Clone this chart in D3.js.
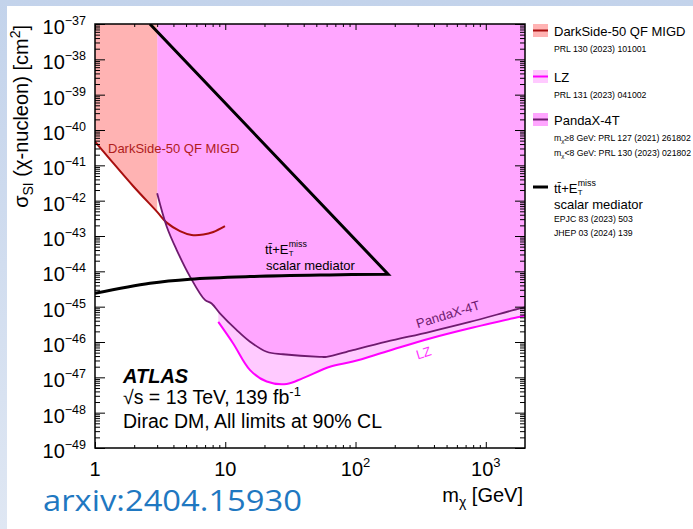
<!DOCTYPE html>
<html lang="en">
<head>
<meta charset="UTF-8">
<title>DM SI limits</title>
<style>
  body { margin: 0; background: #c6d5ec; }
  svg { display: block; }
  text { font-family: "Liberation Sans", Arial, Helvetica, sans-serif; fill: #000; }
</style>
</head>
<body>
<div id="chart"></div>
<script src="https://d3js.org/d3.v7.min.js"></script>
<script>
// values: mass [GeV] and cross section [cm^2]
var darksideX = [1, 1.3, 1.96, 3.0, 3.57, 4.49, 5.52, 6.79, 8.1, 9.95];
var darksideY = [4.7e-41, 1.5e-41, 2.6e-42, 4.8e-43, 2.35e-43, 1.38e-43, 1.07e-43, 1.1e-43, 1.3e-43, 1.9e-43];
var darksideFillMax = 3.0;

var pandaxX = [3.0, 3.55, 4.24, 5.36, 6.98, 7.86, 9.1, 12.2, 15.5, 20.8, 27.7, 53, 60, 95.5, 173, 373, 755, 1830, 2000];
var pandaxY = [1.62e-42, 1.86e-43, 4.0e-44, 7.1e-45, 1.55e-45, 1.23e-45, 6.5e-46, 2.2e-46, 1.02e-46, 5.3e-47,
  4.5e-47, 3.8e-47, 3.8e-47, 5.9e-47, 1.02e-46, 1.95e-46, 3.7e-46, 8.9e-46, 9.5e-46];

var lzX = [8.84, 11.5, 15.5, 20.8, 29.6, 39.5, 63.6, 95.5, 173, 373, 755, 1830, 2000];
var lzY = [3.7e-46, 9.1e-47, 1.6e-47, 7.6e-48, 6.5e-48, 9.5e-48, 2.0e-47, 2.8e-47, 5.4e-47, 1.26e-46, 2.45e-46, 5.2e-46, 5.6e-46];

// ttbar + MET: smooth lower edge, then straight diagonal back to the top
var ttbarLowX = [1, 2.64, 5.36, 15.5, 63, 178];
var ttbarLowY = [2.4e-45, 4.6e-45, 6.0e-45, 7.1e-45, 7.9e-45, 8.3e-45];
var ttbarTopX = 2.64;

var xMajor = [1, 10, 100, 1000];
var xLabels = [["1", ""], ["10", ""], ["10", "2"], ["10", "3"]];
var yExponents = [-37, -38, -39, -40, -41, -42, -43, -44, -45, -46, -47, -48, -49];

var legendTitles = ["DarkSide-50 QF MIGD", "LZ", "PandaX-4T"];
var legendRefs = [["PRL 130 (2023) 101001"], ["PRL 131 (2023) 041002"],
  ["\u2265" + "8 GeV: PRL 127 (2021) 261802", "<8 GeV: PRL 130 (2023) 021802"]];
var ttbarRefs = ["EPJC 83 (2023) 503", "JHEP 03 (2024) 139"];

var W = 693, H = 529;
var L = 95, R = 525, T = 24, B = 448;

var svg = d3.select("#chart").append("svg")
  .attr("width", W).attr("height", H);

var defs = svg.append("defs");
var grad = defs.append("linearGradient").attr("id", "slide").attr("x1", 0).attr("y1", 0).attr("x2", 0).attr("y2", 1);
grad.append("stop").attr("offset", "0").attr("stop-color", "#c3d3eb");
grad.append("stop").attr("offset", "1").attr("stop-color", "#dfe7f3");
defs.append("clipPath").attr("id", "plot").append("rect")
  .attr("x", L).attr("y", T).attr("width", R - L).attr("height", B - T);

svg.append("rect").attr("width", W).attr("height", H).attr("fill", "url(#slide)");
svg.append("rect").attr("x", 7).attr("y", 6).attr("width", W - 7).attr("height", H - 6).attr("fill", "#fff");

var x = d3.scaleLog().domain([1, 2000]).range([L, R]);
var y = d3.scaleLog().domain([1e-49, 1e-37]).range([B, T]);

var plot = svg.append("g").attr("clip-path", "url(#plot)");

function pts(xs, ys) { return xs.map(function (d, i) { return [d, ys[i]]; }); }

var area = d3.area()
  .x(function (d) { return x(d[0]); })
  .y0(y(1e-37) - 2)
  .y1(function (d) { return y(d[1]); })
  .curve(d3.curveCatmullRom);
var line = d3.line()
  .x(function (d) { return x(d[0]); })
  .y(function (d) { return y(d[1]); })
  .curve(d3.curveCatmullRom);

var ds = pts(darksideX, darksideY);
var pandax = pts(pandaxX, pandaxY);
var lz = pts(lzX, lzY);

// fills
plot.append("path").attr("d", area(lz)).attr("fill", "#ffcaff");
plot.append("path").attr("d", area(pandax)).attr("fill", "#ffa6ff");
plot.append("path").attr("d", area(ds.filter(function (d) { return d[0] <= darksideFillMax; })))
  .attr("fill", "#ffb3b3");

// limit lines
plot.append("path").attr("d", line(ds)).attr("fill", "none").attr("stroke", "#a80f0f").attr("stroke-width", 2);
plot.append("path").attr("d", line(pandax)).attr("fill", "none").attr("stroke", "#6e1a6e").attr("stroke-width", 1.8);
plot.append("path").attr("d", line(lz)).attr("fill", "none").attr("stroke", "#ff00ff").attr("stroke-width", 2);

var low = line(pts(ttbarLowX, ttbarLowY));
plot.append("path")
  .attr("d", low + "L" + x(ttbarTopX) + "," + y(1e-37))
  .attr("fill", "none").attr("stroke", "#000").attr("stroke-width", 3).attr("stroke-linejoin", "miter");

// axes ticks (ROOT style, inward on all sides)
var xMinor = [], yMinor = [];
[1, 10, 100, 1000].forEach(function (dec) {
  for (var k = 2; k <= 9; k++) if (dec * k < 2000) xMinor.push(dec * k);
});
yExponents.slice(1).forEach(function (e) {
  for (var k = 2; k <= 9; k++) yMinor.push(k * Math.pow(10, e));
});
var yMajor = yExponents.map(function (e) { return Math.pow(10, e); });

function ticks(axis, pos, vals, size) {
  var g = svg.append("g").attr("transform", pos)
    .call(axis.tickValues(vals).tickSize(size).tickFormat(""));
  g.select(".domain").remove();
  g.selectAll("line").attr("stroke", "#000");
}
ticks(d3.axisBottom(x), "translate(0," + B + ")", xMajor, -6);
ticks(d3.axisBottom(x), "translate(0," + B + ")", xMinor, -3);
ticks(d3.axisTop(x), "translate(0," + T + ")", xMajor, -6);
ticks(d3.axisTop(x), "translate(0," + T + ")", xMinor, -3);
ticks(d3.axisLeft(y), "translate(" + L + ",0)", yMajor, -10);
ticks(d3.axisLeft(y), "translate(" + L + ",0)", yMinor, -5);
ticks(d3.axisRight(y), "translate(" + R + ",0)", yMajor, -10);
ticks(d3.axisRight(y), "translate(" + R + ",0)", yMinor, -5);

svg.append("rect").attr("x", L).attr("y", T).attr("width", R - L).attr("height", B - T)
  .attr("fill", "none").attr("stroke", "#000").attr("stroke-width", 1.5);

// tick labels
xMajor.forEach(function (v, i) {
  var t = svg.append("text").attr("x", x(v)).attr("y", 476)
    .attr("text-anchor", "middle").style("font-size", "20px").text(xLabels[i][0]);
  if (xLabels[i][1]) t.append("tspan").attr("dy", -9).style("font-size", "13px").text(xLabels[i][1]);
});
yExponents.forEach(function (e) {
  var t = svg.append("text").attr("x", 86).attr("y", y(Math.pow(10, e)) + 10)
    .attr("text-anchor", "end").style("font-size", "20px").text("10");
  t.append("tspan").attr("dy", -9).style("font-size", "12.5px").text("\u2212" + (-e));
});

// axis titles
var yt = svg.append("text").attr("transform", "translate(28," + 25 + ") rotate(-90)")
  .attr("text-anchor", "end").style("font-size", "20px");
yt.append("tspan").text("\u03c3");
yt.append("tspan").attr("dy", 5).style("font-size", "14px").text("SI");
yt.append("tspan").attr("dy", -5).text(" (\u03c7-nucleon) [cm");
yt.append("tspan").attr("dy", -8).style("font-size", "14px").text("2");
yt.append("tspan").attr("dy", 8).text("]");

var xt = svg.append("text").attr("x", 523).attr("y", 502).attr("text-anchor", "end").style("font-size", "20px");
xt.append("tspan").text("m");
xt.append("tspan").attr("dy", 5).style("font-size", "14px").text("\u03c7");
xt.append("tspan").attr("dy", -5).text(" [GeV]");

svg.append("text").attr("x", 43).attr("y", 511)
  .attr("textLength", 259).attr("lengthAdjust", "spacingAndGlyphs")
  .style("font-family", "'Open Sans', sans-serif").style("font-size", "30px").style("fill", "#1f78c1")
  .text("arxiv:2404.15930");

// in-plot labels
svg.append("text").attr("x", 108).attr("y", 153).style("font-size", "13px").style("fill", "#b01c1c")
  .text("DarkSide-50 QF MIGD");

function ttLabel(x0, y0, size) {
  var t = svg.append("text").attr("x", x0).attr("y", y0).style("font-size", size + "px");
  t.append("tspan").text("tt\u0304+E");
  var ex = x0 + size * 1.82;
  svg.append("text").attr("x", ex).attr("y", y0 - 7).style("font-size", (size * 0.68) + "px").text("miss");
  svg.append("text").attr("x", ex).attr("y", y0 + 2).style("font-size", (size * 0.6) + "px").text("T");
}
ttLabel(265, 254, 13);
svg.append("text").attr("x", 266).attr("y", 270).style("font-size", "13px").text("scalar mediator");

svg.append("text").attr("transform", "translate(" + x(301) + "," + y(2.45e-46) + ") rotate(-17)")
  .style("font-size", "13px").style("fill", "#6e1a6e").text("PandaX-4T");
svg.append("text").attr("transform", "translate(" + x(300) + "," + y(3.2e-47) + ") rotate(-17)")
  .style("font-size", "13px").style("fill", "#ff33ff").text("LZ");

svg.append("text").attr("x", 123).attr("y", 383).style("font-size", "20px")
  .style("font-weight", "bold").style("font-style", "italic").text("ATLAS");
var s1 = svg.append("text").attr("x", 123).attr("y", 404).style("font-size", "19.5px");
s1.append("tspan").text("\u221as = 13 TeV, 139 fb");
s1.append("tspan").attr("dy", -8).style("font-size", "13px").text("-1");
svg.append("text").attr("x", 123).attr("y", 428).style("font-size", "19.5px").text("Dirac DM, All limits at 90% CL");

// legend
var legFill = ["#ffb3b3", "#ffcaff", "#ffa6ff"];
var legLine = ["#a80f0f", "#ff00ff", "#6e1a6e"];
var legTop = [24, 70, 113];
legendTitles.forEach(function (name, i) {
  svg.append("rect").attr("x", 533).attr("y", legTop[i]).attr("width", 15).attr("height", 13).attr("fill", legFill[i]);
  svg.append("line").attr("x1", 533).attr("x2", 548).attr("y1", legTop[i] + 6.5).attr("y2", legTop[i] + 6.5)
    .attr("stroke", legLine[i]).attr("stroke-width", 2);
  svg.append("text").attr("x", 554).attr("y", legTop[i] + 12).style("font-size", "13px").text(name);
  legendRefs[i].forEach(function (r, j) {
    var t = svg.append("text").attr("x", 554).attr("y", legTop[i] + 28 + j * 15).style("font-size", "8.7px");
    if (i === 2) {
      t.append("tspan").text("m");
      t.append("tspan").attr("dy", 2).style("font-size", "6px").text("\u03c7");
      t.append("tspan").attr("dy", -2).text(r);
    } else {
      t.text(r);
    }
  });
});
svg.append("line").attr("x1", 533).attr("x2", 548).attr("y1", 187).attr("y2", 187)
  .attr("stroke", "#000").attr("stroke-width", 3);
ttLabel(554, 193, 13);
svg.append("text").attr("x", 554).attr("y", 209).style("font-size", "13px").text("scalar mediator");
ttbarRefs.forEach(function (r, j) {
  svg.append("text").attr("x", 554).attr("y", 222 + j * 14).style("font-size", "8.7px").text(r);
});
</script>
</body>
</html>
